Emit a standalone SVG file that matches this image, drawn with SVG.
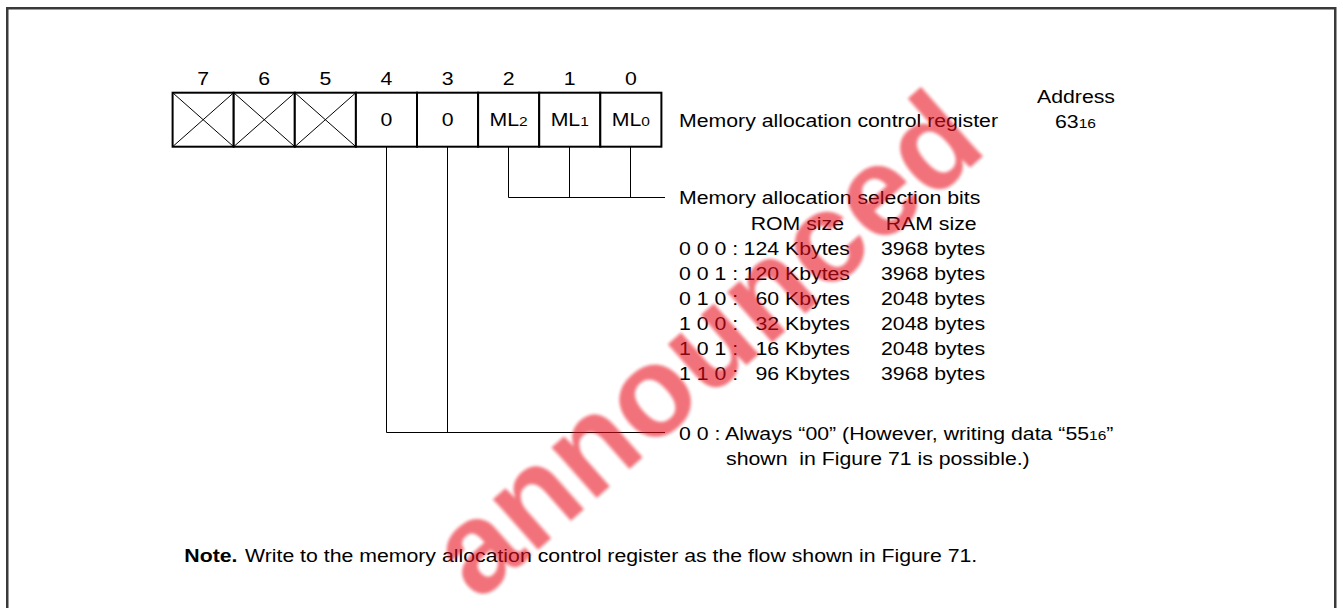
<svg xmlns="http://www.w3.org/2000/svg" width="1343" height="608" viewBox="0 0 1343 608">
<defs>
<style>
text{font-family:"Liberation Sans",Arial,Helvetica,sans-serif;font-size:18.5px;fill:#000}
.mid{text-anchor:middle}
.end{text-anchor:end}
.sub{font-size:13.5px}
.bold{font-weight:bold}
.box{fill:#fff;stroke:#000;stroke-width:2}
.x{stroke:#000;stroke-width:1}
.ln{stroke:#000;stroke-width:1;fill:none}
.frame{fill:none;stroke:#3a3a3a;stroke-width:2.5}
.wm{font-size:128px;font-weight:bold;fill:#e8101c;opacity:0.58}
</style>
<filter id="soft" x="-10%" y="-10%" width="120%" height="120%"><feGaussianBlur stdDeviation="1.8"/></filter>
</defs>
<rect class="frame" x="7.25" y="8.25" width="1328" height="700"/>

<g id="bit-numbers">
<text class="mid" transform="translate(203.15,85) scale(1.15,1)">7</text>
<text class="mid" transform="translate(264.25,85) scale(1.15,1)">6</text>
<text class="mid" transform="translate(325.35,85) scale(1.15,1)">5</text>
<text class="mid" transform="translate(386.45,85) scale(1.15,1)">4</text>
<text class="mid" transform="translate(447.55,85) scale(1.15,1)">3</text>
<text class="mid" transform="translate(508.65,85) scale(1.15,1)">2</text>
<text class="mid" transform="translate(569.75,85) scale(1.15,1)">1</text>
<text class="mid" transform="translate(630.85,85) scale(1.15,1)">0</text>
</g>

<g id="register">
<g id="bit7"><rect class="box" x="172.6" y="92.7" width="61.1" height="54"/><line class="x" x1="172.6" y1="92.7" x2="233.7" y2="146.7"/><line class="x" x1="233.7" y1="92.7" x2="172.6" y2="146.7"/></g>
<g id="bit6"><rect class="box" x="233.7" y="92.7" width="61.1" height="54"/><line class="x" x1="233.7" y1="92.7" x2="294.8" y2="146.7"/><line class="x" x1="294.8" y1="92.7" x2="233.7" y2="146.7"/></g>
<g id="bit5"><rect class="box" x="294.8" y="92.7" width="61.1" height="54"/><line class="x" x1="294.8" y1="92.7" x2="355.9" y2="146.7"/><line class="x" x1="355.9" y1="92.7" x2="294.8" y2="146.7"/></g>
<g id="bit4"><rect class="box" x="355.9" y="92.7" width="61.1" height="54"/><text class="mid" transform="translate(386.45,126) scale(1.15,1)">0</text></g>
<g id="bit3"><rect class="box" x="417" y="92.7" width="61.1" height="54"/><text class="mid" transform="translate(447.55,126) scale(1.15,1)">0</text></g>
<g id="bit2"><rect class="box" x="478.1" y="92.7" width="61.1" height="54"/><text class="mid" transform="translate(508.65,126) scale(1.15,1)">ML<tspan class="sub">2</tspan></text></g>
<g id="bit1"><rect class="box" x="539.2" y="92.7" width="61.1" height="54"/><text class="mid" transform="translate(569.75,126) scale(1.15,1)">ML<tspan class="sub">1</tspan></text></g>
<g id="bit0"><rect class="box" x="600.3" y="92.7" width="61.1" height="54"/><text class="mid" transform="translate(630.85,126) scale(1.15,1)">ML<tspan class="sub">0</tspan></text></g>
</g>

<g id="connectors">
<path class="ln" d="M508.5,147 V197.5 H665 M569.5,147 V197.5 M630.5,147 V197.5"/>
<path class="ln" d="M386.5,147 V432.5 H665 M447.5,147 V432.5"/>
</g>

<g id="register-label">
<text transform="translate(679,127) scale(1.15,1)">Memory allocation control register</text>
</g>

<g id="address">
<text class="mid" transform="translate(1076,103) scale(1.15,1)">Address</text>
<text transform="translate(1055,128) scale(1.15,1)">63<tspan class="sub">16</tspan></text>
</g>

<g id="selection-bits">
<text transform="translate(679,203.5) scale(1.15,1)">Memory allocation selection bits</text>
<text transform="translate(750.7,229.5) scale(1.15,1)">ROM size</text>
<text transform="translate(885.7,229.5) scale(1.15,1)">RAM size</text>
<text transform="translate(679,255) scale(1.15,1)">0 0 0 :</text>
<text class="end" transform="translate(850,255) scale(1.15,1)">124 Kbytes</text>
<text transform="translate(881,255) scale(1.15,1)">3968 bytes</text>
<text transform="translate(679,280) scale(1.15,1)">0 0 1 :</text>
<text class="end" transform="translate(850,280) scale(1.15,1)">120 Kbytes</text>
<text transform="translate(881,280) scale(1.15,1)">3968 bytes</text>
<text transform="translate(679,305) scale(1.15,1)">0 1 0 :</text>
<text class="end" transform="translate(850,305) scale(1.15,1)">60 Kbytes</text>
<text transform="translate(881,305) scale(1.15,1)">2048 bytes</text>
<text transform="translate(679,330) scale(1.15,1)">1 0 0 :</text>
<text class="end" transform="translate(850,330) scale(1.15,1)">32 Kbytes</text>
<text transform="translate(881,330) scale(1.15,1)">2048 bytes</text>
<text transform="translate(679,355) scale(1.15,1)">1 0 1 :</text>
<text class="end" transform="translate(850,355) scale(1.15,1)">16 Kbytes</text>
<text transform="translate(881,355) scale(1.15,1)">2048 bytes</text>
<text transform="translate(679,380) scale(1.15,1)">1 1 0 :</text>
<text class="end" transform="translate(850,380) scale(1.15,1)">96 Kbytes</text>
<text transform="translate(881,380) scale(1.15,1)">3968 bytes</text>
</g>

<g id="reserved-bits">
<text transform="translate(679,439.5) scale(1.15,1)">0 0 : Always “00” (However, writing data “55<tspan class="sub">16</tspan>”</text>
<text xml:space="preserve" style="white-space:pre" transform="translate(726,464.5) scale(1.15,1)">shown  in Figure 71 is possible.)</text>
</g>

<g id="note">
<text class="bold" transform="translate(184.3,561.5) scale(1.15,1)">Note.</text>
<text transform="translate(245,561.5) scale(1.15,1)">Write to the memory allocation control register as the flow shown in Figure 71.</text>
</g>

<text class="wm" filter="url(#soft)" transform="translate(478,603) rotate(-41.5)">announced</text>
</svg>
